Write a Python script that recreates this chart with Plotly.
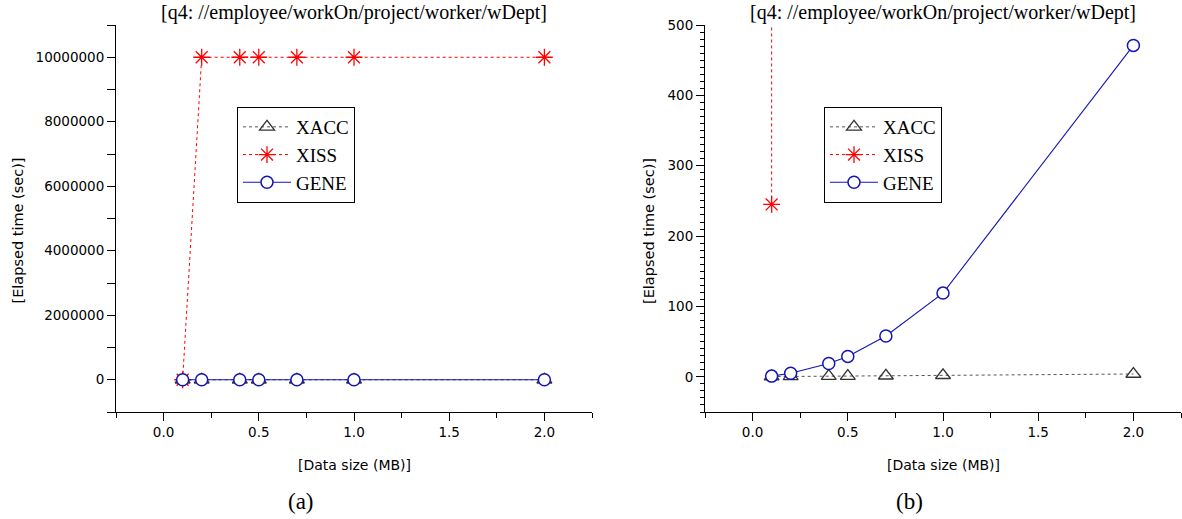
import plotly.graph_objects as go

sizes = [0.1, 0.2, 0.4, 0.5, 0.7, 1.0, 2.0]
xacc = [0.3, 0.5, 0.9, 1.1, 1.5, 2.2, 4.0]
xiss = [245, 10000000, 10000000, 10000000, 10000000, 10000000, 10000000]
gene = [1, 5, 19, 29, 58, 119, 471]

title_text = "[q4: //employee/workOn/project/worker/wDept]"
x_title = "[Data size (MB)]"
y_title = "[Elapsed time (sec)]"
panel_labels = ["(a)", "(b)"]

W, H = 1182, 519
TOP, BOT = 25, 412
PH = BOT - TOP

BLUE = "#1414b4"
GRAY = "#333333"

fig = go.Figure()

def add_traces(xa, ya, legend):
    fig.add_trace(go.Scatter(
        x=sizes, y=xacc, name="XACC", mode="lines+markers", xaxis=xa, yaxis=ya,
        legend=legend,
        line=dict(color="#555555", width=1, dash="dot"),
        marker=dict(symbol="triangle-up-open", size=13, color=GRAY,
                    line=dict(color=GRAY, width=1.3))))
    fig.add_trace(go.Scatter(
        x=sizes, y=xiss, name="XISS", mode="lines+markers", xaxis=xa, yaxis=ya,
        legend=legend,
        line=dict(color="#ff0000", width=1, dash="dot"),
        marker=dict(symbol="asterisk-open", size=14, color="#ff0000",
                    line=dict(color="#ff0000", width=1.3))))
    fig.add_trace(go.Scatter(
        x=sizes, y=gene, name="GENE", mode="lines+markers", xaxis=xa, yaxis=ya,
        legend=legend,
        line=dict(color=BLUE, width=1.1),
        marker=dict(symbol="circle", size=12, color="white",
                    line=dict(color=BLUE, width=1.5))))

add_traces("x", "y", "legend")
add_traces("x2", "y2", "legend2")

tickfont = dict(family="DejaVu Sans", size=13.5, color="black")

xcommon = dict(range=[-0.25, 2.25], dtick=0.5, tick0=0, tickformat=".1f",
               showline=True, linecolor="black", linewidth=1,
               ticks="outside", ticklen=8, tickwidth=1, tickcolor="black",
               minor=dict(dtick=0.25, tick0=0, ticks="outside", ticklen=5,
                          tickcolor="black", tickwidth=1),
               showgrid=False, zeroline=False, tickfont=tickfont)

legend_common = dict(xanchor="left", yanchor="top", y=1 - (107 - TOP) / PH,
                     bordercolor="black", borderwidth=1, bgcolor="white",
                     itemwidth=48,
                     font=dict(family="Liberation Serif", size=19, color="black"),
                     tracegroupgap=0)

fig.update_layout(
    width=W, height=H,
    margin=dict(l=0, r=0, t=TOP, b=H - BOT),
    paper_bgcolor="white", plot_bgcolor="white",
    xaxis=dict(xcommon, domain=[116 / W, 592 / W], anchor="y"),
    xaxis2=dict(xcommon, domain=[705 / W, 1181 / W], anchor="y2"),
    yaxis=dict(range=[-1000000, 11000000], dtick=2000000, tick0=0, tickformat="d",
               showline=True, linecolor="black", linewidth=1,
               ticks="outside", ticklen=8, tickwidth=1, tickcolor="black",
               minor=dict(dtick=1000000, tick0=0, ticks="outside", ticklen=8,
                          tickcolor="black", tickwidth=1),
               showgrid=False, zeroline=False, tickfont=tickfont, anchor="x"),
    yaxis2=dict(range=[-50, 500], dtick=100, tick0=0,
                showline=True, linecolor="black", linewidth=1,
                ticks="outside", ticklen=8, tickwidth=1, tickcolor="black",
                minor=dict(dtick=10, tick0=0, ticks="outside", ticklen=4,
                           tickcolor="black", tickwidth=1),
                showgrid=False, zeroline=False, tickfont=tickfont, anchor="x2"),
    legend=dict(legend_common, x=237 / W),
    legend2=dict(legend_common, x=824 / W),
    showlegend=True,
)

centers = [(116 + 592) / 2, (705 + 1181) / 2]
ylab_x = [17.5, 649]
panel_x = [301, 909]
for i in range(2):
    fig.add_annotation(text=title_text, xref="paper", yref="paper",
                       x=centers[i] / W, y=1 + (TOP - 13) / PH, showarrow=False,
                       xanchor="center", yanchor="middle",
                       font=dict(family="Liberation Serif", size=20, color="black"))
    fig.add_annotation(text=x_title, xref="paper", yref="paper",
                       x=centers[i] / W, y=-(465 - BOT) / PH, showarrow=False,
                       xanchor="center", yanchor="middle",
                       font=dict(family="DejaVu Sans", size=14, color="black"))
    fig.add_annotation(text=y_title, xref="paper", yref="paper", textangle=-90,
                       x=ylab_x[i] / W, y=1 - (231 - TOP) / PH, showarrow=False,
                       xanchor="center", yanchor="middle",
                       font=dict(family="DejaVu Sans", size=14.5, color="black"))
    fig.add_annotation(text=panel_labels[i], xref="paper", yref="paper",
                       x=panel_x[i] / W, y=-(501 - BOT) / PH, showarrow=False,
                       xanchor="center", yanchor="middle",
                       font=dict(family="Liberation Serif", size=23, color="black"))

fig.write_html("out.html")
